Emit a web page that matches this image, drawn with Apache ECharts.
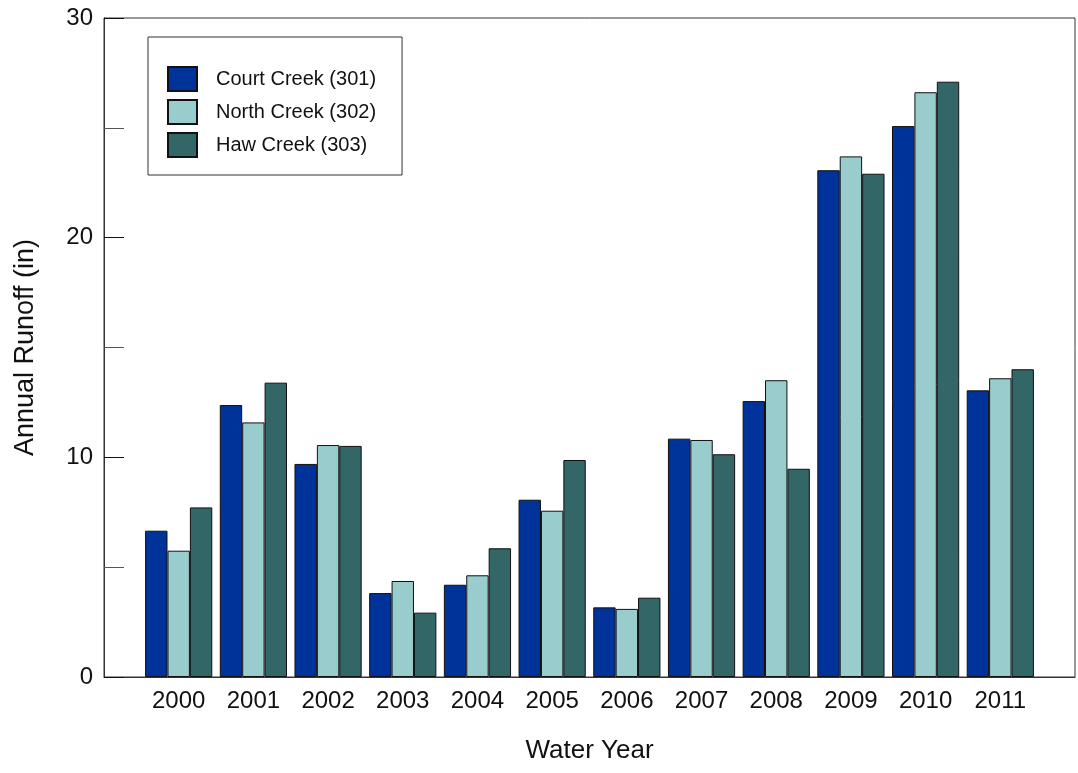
<!DOCTYPE html>
<html>
<head>
<meta charset="utf-8">
<script src="https://cdn.jsdelivr.net/npm/echarts@6/dist/echarts.min.js"></script>
<style>html,body{margin:0;padding:0;background:#fff}#c{width:1078px;height:773px}</style>
</head>
<body>
<div id="c"></div>
<script>
const years = [2000, 2001, 2002, 2003, 2004, 2005, 2006, 2007, 2008, 2009, 2010, 2011];
const seriesNames = ['Court Creek (301)', 'North Creek (302)', 'Haw Creek (303)'];
const courtCreek = [6.66, 12.38, 9.70, 3.82, 4.20, 8.07, 3.17, 10.85, 12.56, 23.07, 25.08, 13.05];
const northCreek = [5.75, 11.59, 10.56, 4.37, 4.63, 7.57, 3.10, 10.79, 13.51, 23.70, 26.62, 13.60];
const hawCreek = [7.72, 13.40, 10.52, 2.93, 5.86, 9.88, 3.61, 10.14, 9.48, 22.91, 27.10, 14.01];
const colors = ['#003399', '#99CCCC', '#336666'];
const FONT = 'Liberation Sans, Arial, sans-serif';

const chart = echarts.init(document.getElementById('c'), null, {renderer: 'canvas'});
const allValues = [courtCreek, northCreek, hawCreek];
chart.setOption({
  animation: false,
  backgroundColor: '#fff',
  grid: {left: 104, top: 18, right: 2, bottom: 96, show: true, borderColor: '#333', borderWidth: 1, backgroundColor: 'transparent'},
  legend: {
    orient: 'vertical', left: 148, top: 37,
    padding: [29, 26, 17, 19],
    itemWidth: 29, itemHeight: 24, itemGap: 7,
    borderColor: '#333', borderWidth: 1, borderRadius: 0,
    backgroundColor: '#fff',
    icon: 'rect',
    textStyle: {fontFamily: FONT, fontSize: 20, color: '#111', padding: [0, 0, 0, 14]},
    data: seriesNames
  },
  xAxis: {
    type: 'value', min: 1999, max: 2012, interval: 1,
    splitLine: {show: false},
    axisLine: {show: true, lineStyle: {color: '#333', width: 1}},
    axisTick: {show: false},
    axisLabel: {
      fontFamily: FONT, fontSize: 24, color: '#111', margin: 12,
      formatter: v => (v >= 2000 && v <= 2011) ? String(v) : ''
    },
    name: 'Water Year', nameLocation: 'middle', nameGap: 61,
    nameTextStyle: {fontFamily: FONT, fontSize: 26, color: '#111'}
  },
  yAxis: {
    type: 'value', min: 0, max: 30, interval: 10,
    splitLine: {show: false},
    axisLine: {show: true, lineStyle: {color: '#333', width: 1}},
    axisTick: {show: true, inside: true, length: 20, lineStyle: {color: '#111', width: 1}},
    minorTick: {show: true, splitNumber: 2, length: 20, lineStyle: {color: '#555', width: 1}},
    axisLabel: {fontFamily: FONT, fontSize: 24, color: '#111', margin: 11},
    name: 'Annual Runoff (in)', nameLocation: 'middle', nameGap: 65,
    nameTextStyle: {fontFamily: FONT, fontSize: 27, color: '#111'}
  },
  series: seriesNames.map((name, i) => ({
    name: name,
    type: 'bar',
    barWidth: 22.4,
    barGap: '0%',
    itemStyle: {color: colors[i], borderColor: '#111', borderWidth: 1},
    data: years.map((y, j) => [y, allValues[i][j]])
  }))
});
</script>
</body>
</html>
